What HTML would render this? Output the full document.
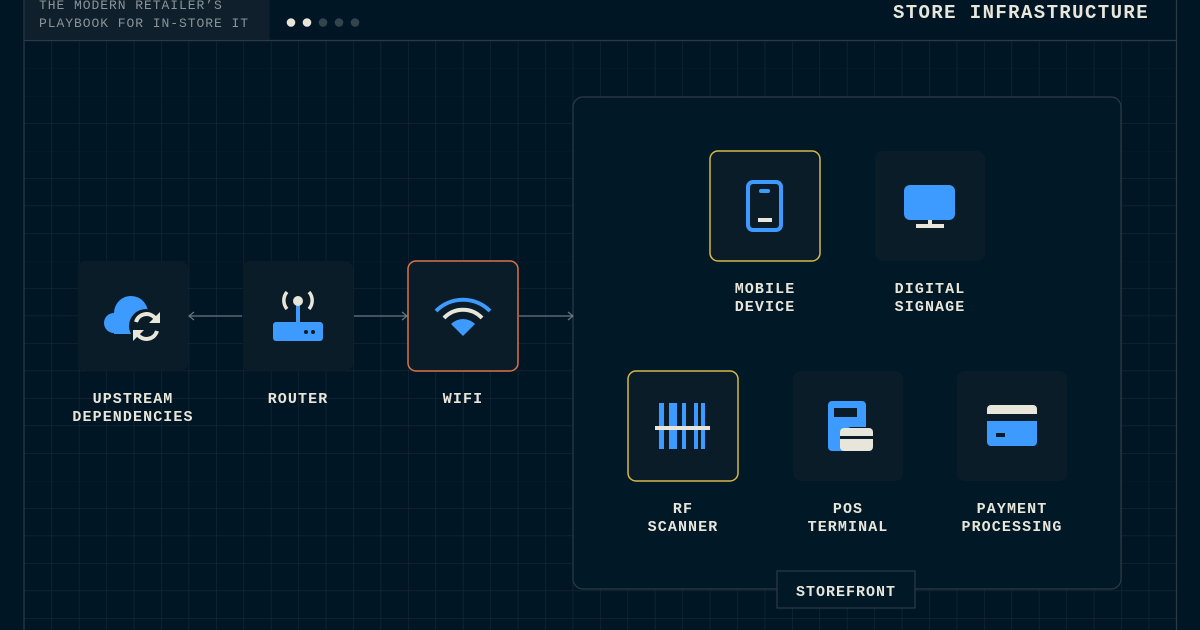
<!DOCTYPE html>
<html><head><meta charset="utf-8"><style>
body{margin:0;width:1200px;height:630px;overflow:hidden;background:#011624;font-family:"Liberation Mono",monospace}
</style></head><body>
<svg width="1200" height="630" xmlns="http://www.w3.org/2000/svg" style="position:absolute;left:0;top:0">
<defs>
<pattern id="g" x="24" y="40.5" width="27.43" height="27.5" patternUnits="userSpaceOnUse">
<path d="M0 0H27.43M0 0V27.5" stroke="#172836" stroke-width="1.2" fill="none"/>
</pattern>
</defs>
<rect width="1200" height="630" fill="#011624"/>
<rect x="24" y="40.5" width="1152.5" height="600" fill="url(#g)"/>
<line x1="24" y1="0" x2="24" y2="630" stroke="#2b3b46" stroke-width="1.2"/>
<line x1="1176.5" y1="0" x2="1176.5" y2="630" stroke="#2b3b46" stroke-width="1.2"/>
<line x1="24" y1="40.5" x2="1176.5" y2="40.5" stroke="#2b3b46" stroke-width="1.2"/>
<rect x="24.6" y="0" width="245" height="40" fill="#0f1f2c"/>
<text x="39" y="9" fill="#8a9499" font-size="13" letter-spacing="0.95">THE MODERN RETAILER’S</text>
<text x="39" y="27" fill="#8a9499" font-size="13" letter-spacing="0.95">PLAYBOOK FOR IN-STORE IT</text>
<circle cx="291" cy="22.5" r="4.3" fill="#e8e6da"/>
<circle cx="307" cy="22.5" r="4.3" fill="#e8e6da"/>
<circle cx="323" cy="22.5" r="4.3" fill="#34444f"/>
<circle cx="339" cy="22.5" r="4.3" fill="#34444f"/>
<circle cx="355" cy="22.5" r="4.3" fill="#34444f"/>
<text x="1149" y="18" text-anchor="end" fill="#e8e6da" font-size="19" letter-spacing="1.4" font-weight="bold">STORE INFRASTRUCTURE</text>

<rect x="573" y="97" width="548" height="492" rx="10" fill="#011826" stroke="#2c3b46" stroke-width="1.2"/>
<rect x="777" y="571" width="138" height="37" fill="#011826" stroke="#2c3b46" stroke-width="1.2"/>
<text x="846" y="596" text-anchor="middle" fill="#e8e6da" font-size="15" letter-spacing="1" font-weight="bold">STOREFRONT</text>

<g stroke="#6b7780" stroke-width="1.2" fill="none">
<line x1="189" y1="316" x2="242" y2="316"/><path d="M194 312L189 316L194 320"/>
<line x1="354" y1="316" x2="407" y2="316"/><path d="M402 312L407 316L402 320"/>
<line x1="519" y1="316" x2="573" y2="316"/><path d="M568 312L573 316L568 320"/>
</g>

<g fill="#0b1c29">
<rect x="78" y="261" width="110" height="110" rx="8"/>
<rect x="243" y="261" width="110" height="110" rx="8"/>
<rect x="408" y="261" width="110" height="110" rx="8" stroke="#d9734a" stroke-width="1.5"/>
<rect x="710" y="151" width="110" height="110" rx="8" stroke="#d6b84a" stroke-width="1.5"/>
<rect x="875" y="151" width="110" height="110" rx="8"/>
<rect x="628" y="371" width="110" height="110" rx="8" stroke="#d6b84a" stroke-width="1.5"/>
<rect x="793" y="371" width="110" height="110" rx="8"/>
<rect x="957" y="371" width="110" height="110" rx="8"/>
</g>

<!-- cloud -->
<g>
<circle cx="114" cy="323" r="10" fill="#3d9bff"/>
<circle cx="131" cy="313" r="17" fill="#3d9bff"/>
<rect x="114" y="318" width="30" height="16" fill="#3d9bff"/>
<circle cx="146" cy="326" r="17" fill="#0b1c29"/>
<path d="M136 322 a11 11 0 0 1 19 -4" stroke="#e8e6da" stroke-width="4" fill="none"/>
<path d="M160 312 v11 h-11 z" fill="#e8e6da"/>
<path d="M157 331 a11 11 0 0 1 -19 4" stroke="#e8e6da" stroke-width="4" fill="none"/>
<path d="M133 341 v-11 h11 z" fill="#e8e6da"/>
</g>
<!-- router -->
<g>
<rect x="273" y="322" width="50" height="19" rx="3" fill="#3d9bff"/>
<rect x="296" y="304" width="4" height="20" fill="#3d9bff"/>
<circle cx="298" cy="301" r="5" fill="#e8e6da"/>
<path d="M287 292 a13 13 0 0 0 0 17 M309 292 a13 13 0 0 1 0 17" stroke="#e8e6da" stroke-width="3.5" fill="none"/>
<circle cx="306" cy="332" r="2" fill="#0b1c29"/><circle cx="313" cy="332" r="2" fill="#0b1c29"/>
</g>
<!-- wifi -->
<g fill="none" stroke-width="4">
<path d="M436 311 a38 38 0 0 1 54 0" stroke="#3d9bff"/>
<path d="M444 318 a26 26 0 0 1 38 0" stroke="#e8e6da"/>
<path d="M451 324 L463 336 L475 324 a17 17 0 0 0 -24 0z" fill="#3d9bff" stroke="none"/>
</g>
<!-- mobile -->
<g>
<rect x="748" y="182" width="33" height="48" rx="5" fill="none" stroke="#3d9bff" stroke-width="4"/>
<rect x="759" y="189" width="11" height="4" rx="2" fill="#3d9bff"/>
<rect x="758" y="218" width="14" height="4" fill="#e8e6da"/>
</g>
<!-- signage -->
<g>
<rect x="904" y="185" width="51" height="35" rx="6" fill="#3d9bff"/>
<rect x="928" y="220" width="4" height="6" fill="#e8e6da"/>
<rect x="916" y="224" width="28" height="4" fill="#e8e6da"/>
</g>
<!-- RF scanner -->
<g fill="#3d9bff">
<rect x="659" y="403" width="5" height="46"/><rect x="669" y="403" width="8" height="46"/>
<rect x="682" y="403" width="4" height="46"/><rect x="694" y="403" width="4" height="46"/>
<rect x="701" y="403" width="4" height="46"/>
<rect x="655" y="426" width="55" height="4" fill="#e8e6da"/>
</g>
<!-- POS -->
<g>
<path d="M828 401 h34 a4 4 0 0 1 4 4 v22 h-14 a8 8 0 0 0 -8 8 v16 h-12 a4 4 0 0 1 -4 -4 v-42 a4 4 0 0 1 4 -4z" fill="#3d9bff"/>
<rect x="834" y="408" width="23" height="9" fill="#0b1c29"/>
<rect x="840" y="428" width="33" height="23" rx="4" fill="#e8e6da"/>
<rect x="840" y="436" width="33" height="3" fill="#0b1c29"/>
</g>
<!-- payment -->
<g>
<path d="M991 405 h42 a4 4 0 0 1 4 4 v5 h-50 v-5 a4 4 0 0 1 4 -4z" fill="#e8e6da"/>
<path d="M987 421 h50 v21 a4 4 0 0 1 -4 4 h-42 a4 4 0 0 1 -4 -4z" fill="#3d9bff"/>
<rect x="996" y="433" width="9" height="4" fill="#0b1c29"/>
</g>

<g fill="#e8e6da" font-size="15" text-anchor="middle" letter-spacing="1.1" font-weight="bold">
<text x="133" y="403">UPSTREAM</text><text x="133" y="421">DEPENDENCIES</text>
<text x="298" y="403">ROUTER</text>
<text x="463" y="403">WIFI</text>
<text x="765" y="293">MOBILE</text><text x="765" y="311">DEVICE</text>
<text x="930" y="293">DIGITAL</text><text x="930" y="311">SIGNAGE</text>
<text x="683" y="513">RF</text><text x="683" y="531">SCANNER</text>
<text x="848" y="513">POS</text><text x="848" y="531">TERMINAL</text>
<text x="1012" y="513">PAYMENT</text><text x="1012" y="531">PROCESSING</text>
</g>
</svg>
</body></html>
